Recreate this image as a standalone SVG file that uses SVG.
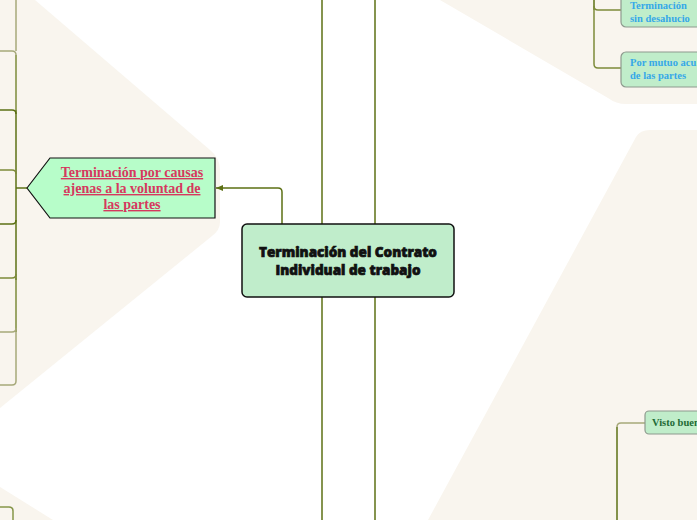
<svg xmlns="http://www.w3.org/2000/svg" width="697" height="520" viewBox="0 0 697 520">
<style>
.bg{fill:#f9f5ee}
.ln{fill:none;stroke:#5c7014;stroke-width:1.5}
.lm{fill:none;stroke:#7d8b3a;stroke-width:1.5}
.ll{fill:none;stroke:#a7a97a;stroke-width:1.5}
.sm{fill:#c0edca;stroke:#8e9a8e;stroke-width:1.2}
.blue{font-family:"Liberation Serif",serif;font-weight:bold;font-size:10.5px;fill:#36a8e8}
.grn{font-family:"Liberation Serif",serif;font-weight:bold;font-size:10.5px;fill:#1e6a35}
.red{font-family:"Liberation Serif",serif;font-weight:bold;font-size:14px;fill:#d6385e;text-decoration:underline}
.ctr{font-family:"Open Sans",Lato,sans-serif;font-weight:800;font-size:13.5px;fill:#111;stroke:#111;stroke-width:0.7}
</style>
<defs>
<marker id="arr" markerWidth="8" markerHeight="8" refX="7" refY="4" orient="auto" markerUnits="userSpaceOnUse">
<path d="M0,1 L7,4 L0,7 Z" fill="#5c7014"/>
</marker>
</defs>
<rect width="697" height="520" fill="#ffffff"/>
<g id="background">
<path class="bg" d="M0,0 L35,0 L210,150 Q220,158 220,170 L220,222 Q220,230 212,236 L0,408 Z"/>
<path class="bg" d="M440,0 L608,98 Q616,104 626,104 L697,104 L697,0 Z"/>
<path class="bg" d="M428,520 L636,137 Q640,130 650,130 L697,130 L697,520 Z"/>
<path class="bg" d="M0,487 L53,520 L0,520 Z"/>
</g>
<g id="connectors">
<line class="ln" x1="322" y1="0" x2="322" y2="224"/>
<line class="ln" x1="375" y1="0" x2="375" y2="224"/>
<line class="ln" x1="322" y1="297" x2="322" y2="520"/>
<line class="ln" x1="375" y1="297" x2="375" y2="520"/>
<path class="ln" d="M282,224 L282,192 Q282,188 278,188 L216,188" marker-end="url(#arr)"/>
<line class="ln" x1="16" y1="188" x2="27" y2="188"/>
<path class="ll" d="M16,0 L16,51"/>
<path class="ll" d="M16,55 Q16,51 12,51 L0,51"/>
<path class="lm" d="M16,55 L16,110"/>
<path class="ln" d="M16,110 L16,280"/>
<path class="ln" d="M16,114 Q16,110 12,110 L0,110"/>
<path class="lm" d="M16,174 Q16,170 12,170 L0,170"/>
<path class="ln" d="M16,220 Q16,224 12,224 L0,224"/>
<path class="lm" d="M16,274 Q16,278 12,278 L0,278"/>
<path class="lm" d="M16,278 L16,332"/>
<path class="ll" d="M16,328 Q16,332 12,332 L0,332"/>
<path class="ll" d="M16,332 L16,381 Q16,385 12,385 L0,385"/>
<path class="ln" d="M594,0 L594,10"/>
<path class="lm" d="M594,6 Q594,10 598,10 L621,10"/>
<path class="lm" d="M594,10 L594,64 Q594,68 598,68 L621,68"/>
<path class="ll" d="M645,423 L621,423 Q617,423 617,427"/>
<path class="ln" d="M617,427 L617,520"/>
</g>
<g id="node-center">
<rect x="242" y="224" width="212" height="73" rx="5" fill="#c0edcb" stroke="#111" stroke-width="1.5"/>
<text class="ctr" x="348" y="257" text-anchor="middle">Terminación del Contrato</text>
<text class="ctr" x="348" y="275" text-anchor="middle">Individual de trabajo</text>
</g>
<g id="node-ajenas">
<path d="M27,188 L50,158 L215,158 L215,218 L50,218 Z" fill="#b7fdc9" stroke="#111" stroke-width="1.2"/>
<text class="red" x="132" y="177" text-anchor="middle">Terminación por causas </text>
<text class="red" x="132" y="193" text-anchor="middle">ajenas a la voluntad de </text>
<text class="red" x="132" y="209" text-anchor="middle">las partes</text>
</g>
<g id="node-sin-desahucio">
<rect class="sm" x="621" y="-20" width="100" height="47" rx="5"/>
<text class="blue" x="630" y="9">Terminación</text>
<text class="blue" x="630" y="22">sin desahucio</text>
</g>
<g id="node-mutuo">
<rect class="sm" x="621" y="52" width="100" height="35" rx="5"/>
<text class="blue" x="630" y="66">Por mutuo acu</text>
<text class="blue" x="630" y="79">de las partes</text>
</g>
<g id="node-visto">
<rect class="sm" x="645" y="411" width="80" height="23" rx="4"/>
<text class="grn" x="652" y="426">Visto buen</text>
</g>
<g id="node-bottom-left">
<path d="M-5,507 L9,507 Q13,507 13,511 L13,525 L-5,525 Z" fill="#f9f5ee" stroke="#86964a" stroke-width="1.5"/>
</g>
</svg>
